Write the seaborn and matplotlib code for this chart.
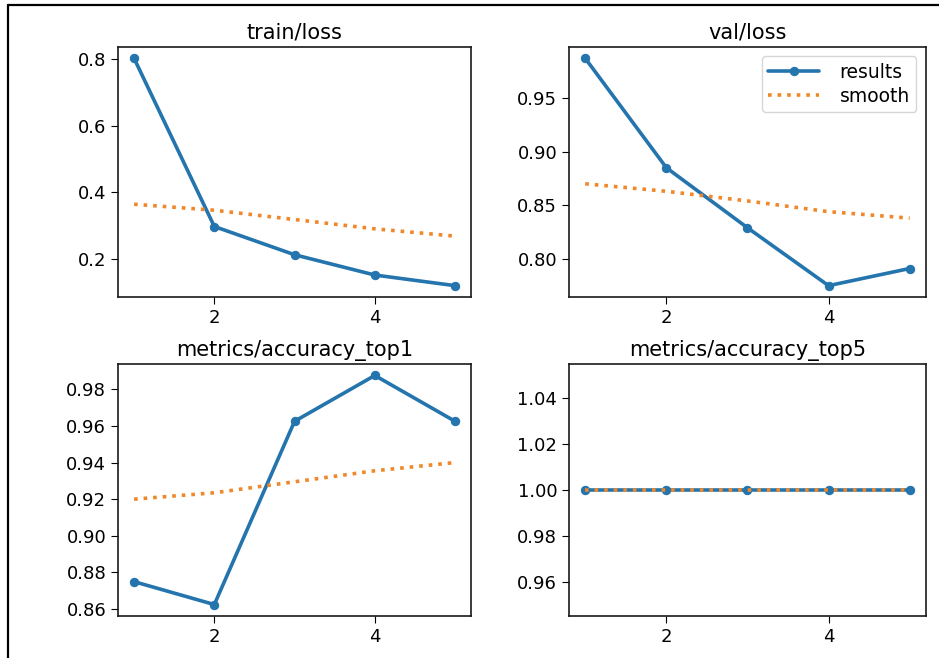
"""Training curves (loss / accuracy) recreated with seaborn."""

import matplotlib
matplotlib.use("Agg")

import matplotlib.pyplot as plt
import seaborn as sns
from matplotlib.lines import Line2D
from matplotlib.ticker import MultipleLocator

epochs = [1, 2, 3, 4, 5]

train_loss = [0.803, 0.297, 0.212, 0.151, 0.119]
train_loss_smooth = [0.364, 0.346, 0.318, 0.290, 0.268]

val_loss = [0.987, 0.885, 0.829, 0.775, 0.791]
val_loss_smooth = [0.870, 0.863, 0.854, 0.844, 0.838]

acc_top1 = [0.875, 0.8625, 0.9625, 0.9875, 0.9625]
acc_top1_smooth = [0.920, 0.9235, 0.9295, 0.9355, 0.940]

acc_top5 = [1.0, 1.0, 1.0, 1.0, 1.0]
acc_top5_smooth = [1.0, 1.0, 1.0, 1.0, 1.0]

titles = ["train/loss", "val/loss", "metrics/accuracy_top1", "metrics/accuracy_top5"]
panels = [
    (train_loss, train_loss_smooth),
    (val_loss, val_loss_smooth),
    (acc_top1, acc_top1_smooth),
    (acc_top5, acc_top5_smooth),
]
y_steps = [0.2, 0.05, 0.02, 0.02]

sns.set_style("ticks")
plt.rcParams["font.family"] = ["DejaVu Sans"]
plt.rcParams["text.color"] = "black"
plt.rcParams["xtick.color"] = "black"
plt.rcParams["ytick.color"] = "black"

blue = "#2474ad"
orange = "#f0872a"

fig = plt.figure(figsize=(9.39, 6.58), dpi=100)
boxes = [
    [0.1257, 0.5486, 0.376, 0.380],
    [0.606, 0.5486, 0.380, 0.380],
    [0.1257, 0.0638, 0.376, 0.383],
    [0.606, 0.0638, 0.380, 0.383],
]

for i, (box, title, (vals, smooth), step) in enumerate(zip(boxes, titles, panels, y_steps)):
    ax = fig.add_axes(box)
    sns.lineplot(x=epochs, y=vals, ax=ax, color=blue, marker=".", markersize=12,
                 markeredgecolor=blue, linewidth=2.6, label="results")
    sns.lineplot(x=epochs, y=smooth, ax=ax, color=orange, linestyle=":",
                 linewidth=2.6, label="smooth")
    ax.set_title(title, fontsize=15, color="black")
    ax.set_xticks([2, 4])
    ax.yaxis.set_major_locator(MultipleLocator(step))
    ax.tick_params(labelsize=13, length=5)
    for spine in ax.spines.values():
        spine.set_visible(True)
        spine.set_color("0.1")
        spine.set_linewidth(1.2)
    ax.set_xlabel("")
    ax.set_ylabel("")
    if i == 1:
        ax.legend(loc="upper right", fontsize=13.5, handlelength=2.7,
                  handletextpad=1.1, labelspacing=0.25, borderpad=0.35)
    else:
        ax.get_legend().remove()

# dark frame left/top from the screenshot crop
fig.add_artist(Line2D([0.008, 0.008], [0.0, 0.9924], color="black", linewidth=1.6,
                      transform=fig.transFigure))
fig.add_artist(Line2D([0.008, 1.0], [0.9924, 0.9924], color="black", linewidth=1.6,
                      transform=fig.transFigure))

fig.savefig("out.png", dpi=100)
